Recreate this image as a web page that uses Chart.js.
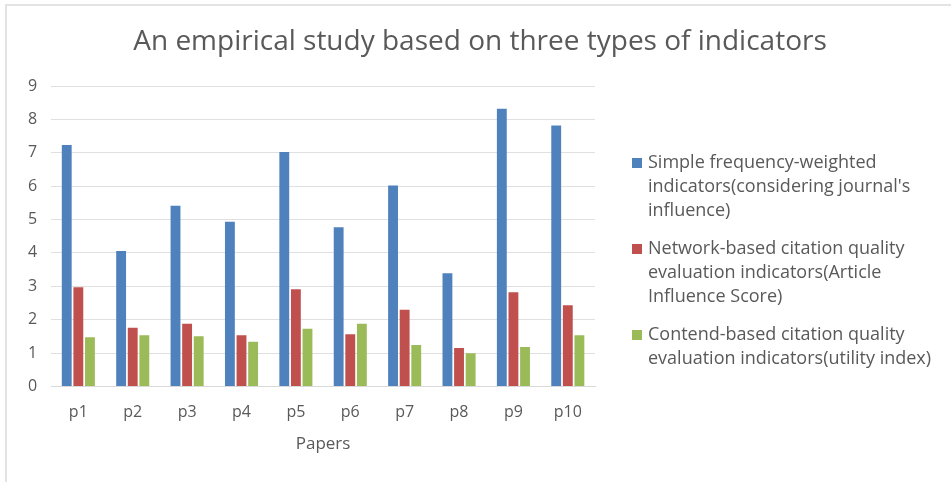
<!DOCTYPE html>
<html>
<head>
<meta charset="utf-8">
<script src="https://cdn.jsdelivr.net/npm/chart.js@4.4.0/dist/chart.umd.min.js"></script>
<style>
  html, body { margin: 0; padding: 0; background: #fff; }
  #wrap { position: relative; width: 951px; height: 482px; }
  #frame { position: absolute; left: 5px; top: 4px; right: 0; bottom: 0;
           border-top: 2px solid #e3e3e3; border-left: 2px solid #e3e3e3; pointer-events: none; }
</style>
</head>
<body>
<div id="wrap">
  <canvas id="chart" width="951" height="482"></canvas>
  <div id="frame"></div>
</div>
<script>
// data
const papers = ['p1', 'p2', 'p3', 'p4', 'p5', 'p6', 'p7', 'p8', 'p9', 'p10'];
const simpleFreq = [7.23, 4.06, 5.41, 4.93, 7.02, 4.77, 6.02, 3.39, 8.32, 7.82];
const networkBased = [2.97, 1.76, 1.88, 1.53, 2.91, 1.56, 2.30, 1.15, 2.82, 2.43];
const contentBased = [1.47, 1.53, 1.50, 1.34, 1.73, 1.88, 1.24, 0.99, 1.18, 1.53];
const yTicks = [0, 1, 2, 3, 4, 5, 6, 7, 8, 9];

const legendLines = [
    ['Simple frequency-weighted', "indicators(considering journal's", 'influence)'],
    ['Network-based citation quality', 'evaluation indicators(Article', 'Influence Score)'],
    ['Contend-based citation quality', 'evaluation indicators(utility index)']
];
const chartTitle = 'An empirical study based on three types of indicators';

const grey = '#595959';
const fontFam = "'Open Sans', sans-serif";

// title + legend drawn by hand so they sit like the original
const sideLegend = {
    id: 'sideLegend',
    afterDraw(chart) {
        const c = chart.ctx;
        const area = chart.chartArea;
        c.save();
        c.fillStyle = grey;
        c.textBaseline = 'middle';
        c.textAlign = 'center';
        c.font = '28px ' + fontFam;
        c.fillText(chartTitle, 480, 42);

        const x = area.right + 37;
        const lineH = 24;
        let y = area.top + 77;
        c.textAlign = 'left';
        c.font = '18px ' + fontFam;
        chart.data.datasets.forEach(ds => {
            c.fillStyle = ds.backgroundColor;
            c.fillRect(x, y - 5, 10, 10);
            c.fillStyle = grey;
            ds.label.forEach((line, i) => {
                c.fillText(line, x + 16, y + i * lineH);
            });
            y += ds.label.length * lineH + 14;
        });
        c.restore();
    }
};

const ctx = document.getElementById('chart').getContext('2d');
new Chart(ctx, {
    type: 'bar',
    data: {
        labels: papers,
        datasets: [
            { label: legendLines[0], data: simpleFreq, backgroundColor: '#4f81bd' },
            { label: legendLines[1], data: networkBased, backgroundColor: '#c0504d' },
            { label: legendLines[2], data: contentBased, backgroundColor: '#9bbb59' }
        ]
    },
    plugins: [sideLegend],
    options: {
        responsive: false,
        animation: false,
        categoryPercentage: 0.64,
        barPercentage: 0.85,
        layout: { padding: { left: 14, right: 356, top: 86, bottom: 24 } },
        plugins: {
            title: { display: false },
            legend: { display: false },
            tooltip: { enabled: false }
        },
        scales: {
            x: {
                grid: { display: false },
                border: { color: '#d9d9d9' },
                ticks: { color: grey, padding: 8, font: { family: fontFam, size: 16 } },
                title: {
                    display: true,
                    text: 'Papers',
                    color: grey,
                    font: { family: fontFam, size: 17 }
                }
            },
            y: {
                min: 0,
                max: 9,
                afterBuildTicks: axis => { axis.ticks = yTicks.map(v => ({ value: v })); },
                grid: { color: '#e0e0e0', drawTicks: false },
                border: { display: false },
                ticks: { color: grey, padding: 14, font: { family: fontFam, size: 16 } }
            }
        }
    }
});
</script>
</body>
</html>
